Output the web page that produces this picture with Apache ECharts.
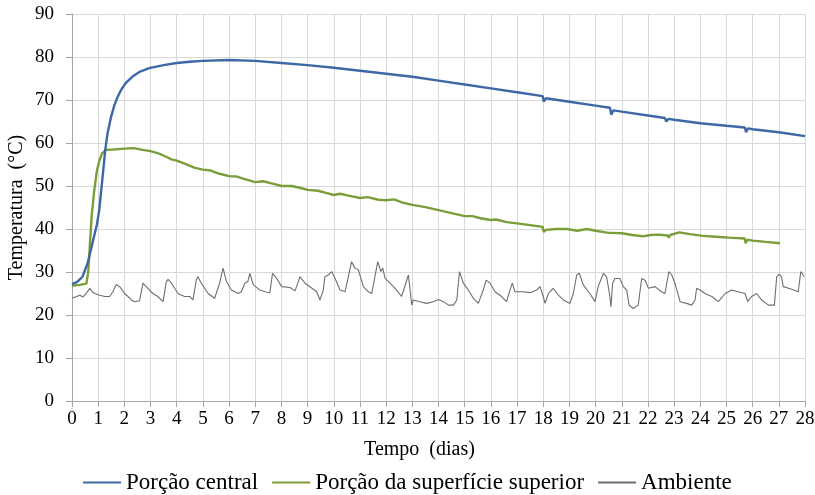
<!DOCTYPE html>
<html>
<head>
<meta charset="utf-8">
<script src="https://cdn.jsdelivr.net/npm/echarts@6/dist/echarts.min.js"></script>
<style>html,body{margin:0;padding:0;background:#fff}#c{width:815px;height:495px}</style>
</head>
<body>
<div id="c"></div>
<script>
const seriesNames = ['Porção central', 'Porção da superfície superior', 'Ambiente'];
const xTicks = {min: 0, max: 28, interval: 1};
const yTicks = {min: 0, max: 90, interval: 10};

const centralDays = [0,0.2,0.4,0.6,0.75,0.85,0.95,1.04,1.1,1.17,1.27,1.36,1.49,1.62,1.75,1.9,2.06,2.3,2.6,2.95,3.5,4,4.5,5,6,7,8,9,10,11,12,13,14,15,16,17,17.98,18.02,18.1,19,20,20.55,20.6,20.68,21,22,22.65,22.7,22.78,23,24,25,25.7,25.75,25.82,26,27,28];
const centralTemps = [27.2,27.7,28.9,32.1,35.9,38.5,41,44.4,48,52.2,58.4,62.3,66,68.8,70.8,72.6,74,75.4,76.6,77.4,78.1,78.6,78.9,79.1,79.3,79.1,78.6,78.1,77.5,76.8,76.1,75.4,74.5,73.6,72.7,71.8,70.9,69.6,70.4,69.6,68.7,68.2,66.6,67.6,67.3,66.4,65.8,65,65.6,65.4,64.6,64,63.6,62.5,63.4,63.2,62.5,61.6];

const surfaceDays = [0,0.3,0.55,0.62,0.68,0.75,0.85,0.95,1.05,1.15,1.3,1.6,2.0,2.35,2.7,3,3.3,3.6,3.8,4,4.3,4.7,5,5.3,5.6,6,6.3,6.6,7,7.3,7.7,8,8.4,8.7,9,9.4,9.7,10,10.25,10.6,11,11.3,11.7,12,12.3,12.6,13,13.5,14,14.5,15,15.3,15.6,16,16.2,16.6,17,17.5,17.98,18.02,18.1,18.5,18.9,19.3,19.66,20,20.5,20.55,20.6,21,21.4,21.8,22.1,22.4,22.75,22.8,22.85,23.2,23.6,24.1,24.6,25.1,25.7,25.73,25.8,26,26.5,27.05];
const surfaceTemps = [26.8,27,27.3,30,36,43,49,53.5,56,57.6,58.4,58.5,58.7,58.8,58.4,58.1,57.6,56.8,56.2,55.9,55.2,54.2,53.8,53.6,52.9,52.3,52.2,51.6,50.9,51.1,50.5,50.0,50.0,49.6,49.1,48.9,48.4,47.9,48.2,47.7,47.2,47.4,46.8,46.7,46.9,46.2,45.6,45.1,44.4,43.7,43.0,43.0,42.5,42.1,42.2,41.6,41.3,40.9,40.5,39.3,39.8,40.0,40.0,39.6,40.0,39.6,39.1,38.8,39.1,39.0,38.6,38.3,38.6,38.7,38.5,38.0,38.6,39.2,38.8,38.4,38.2,38.0,37.8,36.7,37.5,37.3,37.0,36.7];

const ambientDays = [0,0.17,0.3,0.42,0.55,0.68,0.77,0.87,1.06,1.25,1.44,1.56,1.69,1.82,2.01,2.14,2.27,2.39,2.58,2.71,2.9,3.09,3.28,3.48,3.6,3.67,3.8,4.05,4.3,4.5,4.62,4.75,4.81,4.94,5.2,5.45,5.64,5.77,5.9,6.09,6.35,6.47,6.6,6.72,6.79,6.93,7.18,7.44,7.56,7.66,7.82,8.01,8.33,8.52,8.71,8.9,9.22,9.35,9.47,9.6,9.66,9.79,9.92,10.05,10.24,10.43,10.68,10.81,10.94,11.13,11.32,11.45,11.68,11.8,11.87,11.96,12.15,12.4,12.59,12.85,12.91,12.98,13.04,13.29,13.55,13.8,14.0,14.19,14.38,14.57,14.7,14.8,14.95,15.14,15.33,15.52,15.71,15.82,15.97,16.16,16.41,16.6,16.73,16.82,16.92,17.24,17.5,17.75,17.88,18.0,18.07,18.2,18.38,18.58,18.77,19.02,19.15,19.28,19.38,19.53,19.78,19.98,20.1,20.3,20.42,20.53,20.59,20.65,20.74,20.93,21.06,21.19,21.28,21.44,21.63,21.76,21.89,22.02,22.27,22.52,22.65,22.8,22.91,23.03,23.23,23.48,23.67,23.8,23.86,23.99,24.18,24.44,24.69,24.95,25.2,25.45,25.71,25.81,25.96,26.15,26.34,26.6,26.83,26.92,27.02,27.1,27.17,27.49,27.74,27.84,27.97];
const ambientTemps = [23.9,24.3,24.6,24.2,25.1,26.2,25.4,25.0,24.6,24.3,24.3,25.4,27.1,26.6,25.0,24.3,23.5,23.1,23.3,27.4,26.2,25.0,24.3,23.1,27.7,28.3,27.4,25.0,24.3,24.3,23.5,28.2,28.9,27.4,25.0,23.9,27.4,30.9,27.8,25.8,25.0,25.4,27.4,27.8,29.7,27.0,25.8,25.3,25.2,29.7,28.5,26.6,26.4,25.6,28.9,27.4,26.0,25.4,23.5,25.8,28.9,29.3,30.1,28.5,25.8,25.4,32.4,30.9,30.5,26.6,25.4,25.0,32.4,30.1,30.9,28.5,27.4,25.8,24.3,29.3,29.7,22.3,23.5,23.1,22.7,23.1,23.6,23.1,22.3,22.3,23.5,30.1,27.4,25.8,23.9,22.7,25.8,28.1,27.4,25.4,24.3,23.1,25.8,27.4,25.4,25.4,25.2,25.8,26.6,24.3,22.7,25.0,26.2,24.6,23.5,22.7,25.0,29.3,29.7,27.0,25.0,23.1,26.6,29.7,28.9,25.0,21.9,27.4,28.5,28.5,26.6,25.8,22.3,21.5,22.3,28.5,28.1,26.2,26.6,25.4,25.0,30.1,29.3,27.4,23.1,22.7,22.3,23.5,26.2,25.8,25.0,24.3,23.1,25.0,25.8,25.4,25.0,23.1,24.3,25.0,23.5,22.3,22.3,28.9,29.5,28.9,26.6,26.0,25.4,30.1,28.9];

const pair = (xs, ys) => xs.map((x, i) => [x, ys[i]]);
const font = 'Liberation Serif, Times New Roman, serif';

const chart = echarts.init(document.getElementById('c'), null, {renderer: 'canvas'});
chart.setOption({
  animation: false,
  backgroundColor: '#ffffff',
  grid: {left: 72, right: 10, top: 14, bottom: 94, containLabel: false, outerBoundsMode: 'none'},
  xAxis: {
    type: 'value', min: xTicks.min, max: xTicks.max, interval: xTicks.interval,
    name: 'Tempo  (dias)', nameLocation: 'middle', nameGap: 39,
    nameTextStyle: {fontFamily: font, fontSize: 20, color: '#000', padding: [0, 38, 0, 0]},
    axisLine: {lineStyle: {color: '#A6A6A6', width: 1}},
    axisTick: {show: true, length: 6, lineStyle: {color: '#A6A6A6'}},
    axisLabel: {fontFamily: font, fontSize: 19, color: '#000', margin: 9},
    splitLine: {show: true, lineStyle: {color: '#D9D9D9', width: 1}}
  },
  yAxis: {
    type: 'value', min: yTicks.min, max: yTicks.max, interval: yTicks.interval,
    name: 'Temperatura  (°C)', nameLocation: 'middle', nameGap: 45, nameRotate: 90,
    nameMoveOverlap: false,
    nameTextStyle: {fontFamily: font, fontSize: 20, color: '#000'},
    axisLine: {show: true, lineStyle: {color: '#A6A6A6', width: 1}},
    axisTick: {show: true, length: 6, lineStyle: {color: '#A6A6A6'}},
    axisLabel: {fontFamily: font, fontSize: 19, color: '#000', margin: 18},
    splitLine: {show: true, lineStyle: {color: '#D9D9D9', width: 1}}
  },
  legend: {
    left: 78, top: 466, itemGap: 14, itemWidth: 38, itemHeight: 2, icon: 'rect',
    textStyle: {fontFamily: font, fontSize: 23, color: '#000'},
    data: seriesNames
  },
  series: [
    {name: seriesNames[0], type: 'line', data: pair(centralDays, centralTemps), showSymbol: false,
     lineStyle: {color: '#3E67A6', width: 2.4}, itemStyle: {color: '#3E67A6'}, z: 3},
    {name: seriesNames[1], type: 'line', data: pair(surfaceDays, surfaceTemps), showSymbol: false,
     lineStyle: {color: '#7A9E3A', width: 2.4}, itemStyle: {color: '#7A9E3A'}, z: 2},
    {name: seriesNames[2], type: 'line', data: pair(ambientDays, ambientTemps), showSymbol: false,
     lineStyle: {color: '#6E6E6E', width: 1.1}, itemStyle: {color: '#6E6E6E'}, z: 1}
  ]
});
</script>
</body>
</html>
